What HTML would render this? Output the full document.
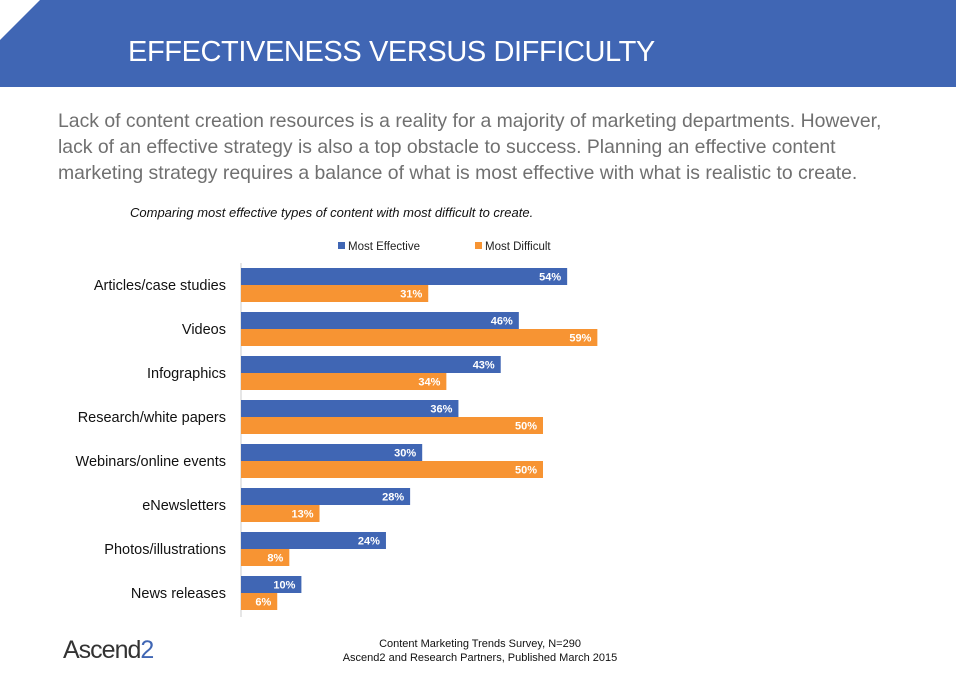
<!DOCTYPE html>
<html><head><meta charset="utf-8"><style>
body{margin:0;width:956px;height:677px;background:#fff;font-family:"Liberation Sans",sans-serif;position:relative;overflow:hidden}
.abs{position:absolute}
</style></head><body>
<svg class="abs" style="left:0;top:0" width="956" height="88"><polygon points="40,0 956,0 956,87 0,87 0,40" fill="#4066b4"/></svg>
<div class="abs" style="left:128px;top:36px;color:#fff;font-size:29px;letter-spacing:-0.4px;white-space:nowrap">EFFECTIVENESS VERSUS DIFFICULTY</div>
<div class="abs" style="left:58px;top:108px;color:#707070;font-size:19.4px;line-height:26px;white-space:nowrap">Lack of content creation resources is a reality for a majority of marketing departments. However,<br>lack of an effective strategy is also a top obstacle to success. Planning an effective content<br>marketing strategy requires a balance of what is most effective with what is realistic to create.</div>
<div class="abs" style="left:130px;top:205px;font-size:13px;font-style:italic;color:#111">Comparing most effective types of content with most difficult to create.</div>
<svg id="chart" class="abs" style="left:0;top:0" width="956" height="677"></svg>
<div class="abs" style="left:63px;top:636px;font-size:25px;color:#333;letter-spacing:-1px">Ascend<span style="color:#4066b4">2</span></div>
<div class="abs" style="left:330px;top:637px;width:300px;text-align:center;font-size:11px;color:#111;line-height:14px">Content Marketing Trends Survey, N=290<br>Ascend2 and Research Partners, Published March 2015</div>
<script>
const categories=["Articles/case studies","Videos","Infographics","Research/white papers","Webinars/online events","eNewsletters","Photos/illustrations","News releases"];
const effective=[54,46,43,36,30,28,24,10];
const difficult=[31,59,34,50,50,13,8,6];
const seriesNames=["Most Effective","Most Difficult"];
const colors=["#4066b4","#f79433"];
const svg=document.getElementById('chart');
const NS='http://www.w3.org/2000/svg';
const x0=241,scale=6.04,top0=268,rowH=44,barH=17;
const x=v=>x0+v*scale;
function mk(t,a){const e=document.createElementNS(NS,t);for(const k in a)e.setAttribute(k,a[k]);svg.appendChild(e);return e;}
[0,1].forEach(i=>{const lx=[338,475][i];
const r=mk('rect',{x:lx,y:242,width:7,height:7,fill:colors[i]});


const t=mk('text',{x:lx+10,y:250,'font-size':11.5,fill:'#222'});t.textContent=seriesNames[i];

});
const ax=mk('line',{x1:x0,x2:x0,y1:top0-5,y2:top0+rowH*categories.length-3,stroke:'#ccc'});


categories.forEach((c,i)=>{
 const y=top0+i*rowH;
 const t=mk('text',{x:226,y:y+barH+5,'text-anchor':'end','font-size':14.5,fill:'#111'});t.textContent=c;
 
 
 [effective[i],difficult[i]].forEach((v,j)=>{
  const by=y+j*barH;
  const r=mk('rect',{x:x0,y:by,width:v*scale,height:barH,fill:colors[j]});
  
  
  const l=mk('text',{x:x(v)-6,y:by+12.5,'text-anchor':'end','font-size':11,'font-weight':'bold',fill:'#fff'});l.textContent=v+'%';
  
  
 });
});
</script>
</body></html>
